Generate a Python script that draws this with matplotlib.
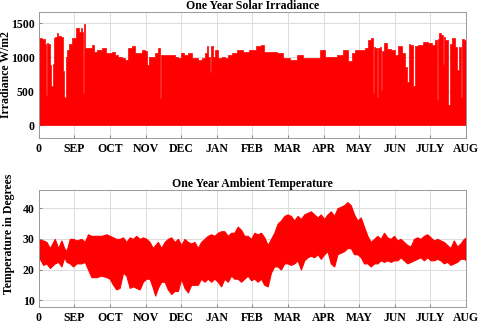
import numpy as np
import matplotlib
matplotlib.use('Agg')
from matplotlib import pyplot as plt

plt.rcParams['font.family'] = ['Liberation Serif', 'DejaVu Serif']
plt.rcParams['font.weight'] = 'bold'

# month tick labels (data runs Aug -> Aug, x in days)
months = ['0', 'SEP', 'OCT', 'NOV', 'DEC', 'JAN', 'FEB', 'MAR', 'APR', 'MAY', 'JUN', 'JULY', 'AUG']

# daily peak irradiance [W/m2]
irr_day = [0, 0.9, 5.1, 5.7, 6.6, 7.4, 8.8, 9.4, 11.4, 12.3, 13.1, 15.1, 15.7, 17.4, 19.7,
           20.8, 21.7, 22.8, 23.6, 25.1, 27.1, 29.9, 33.6, 35.0, 36.5, 37.6, 37.9, 38.5, 39.0,
           40.2, 43.6, 46.4, 47.9, 52.1, 56.4, 57.8, 60.7, 63.5, 66.4, 69.2, 72.1, 74.9, 77.8,
           80.6, 83.5, 86.3, 89.2, 92.0, 93.4, 94.9, 97.7, 100.6, 102.8, 104.0, 104.8, 109.1,
           114.8, 117.7, 120.5, 121.9, 126.2, 129.1, 131.9, 134.8, 137.6, 140.5, 143.3, 143.9,
           144.7, 147.0, 147.9, 149.0, 151.9, 154.7, 157.5, 160.4, 163.2, 166.1, 171.8,
           177.5, 181.8, 188.9, 190.9, 194.6, 200.3, 206.0, 211.7, 217.4, 223.1, 228.8, 237.3,
           243.0, 245.9, 251.6, 257.3, 262.9, 265.8, 268.7, 271.5, 274.4, 277.2, 280.1, 282.3,
           284.4, 285.8, 286.6, 288.6, 289.2, 290.0, 292.3, 292.9, 293.7, 296.3, 298.5, 302.8,
           305.7, 308.5, 311.4, 313.4, 315.7, 316.5, 318.5, 320.5, 321.4, 325.6, 331.3, 334.2,
           337.0, 339.9, 340.5, 341.3, 342.7, 344.7, 345.6, 346.4, 348.4, 350.1, 351.8, 354.1,
           356.4, 358.4, 359.8, 361.3, 362.1, 364.1, 365.0]
irr_peak = [1330, 1280, 1270, 1200, 444, 1210, 1200, 890, 570, 900, 1280, 1300, 1355, 1310, 1300,
            800, 420, 395, 1010, 1110, 1200, 1280, 1430, 1380, 1440, 1380, 470, 1450, 1490,
            1135, 1140, 1180, 1080, 1110, 1135, 1060, 1060, 1085, 1035, 1010, 990, 960, 1135,
            1160, 1060, 1060, 1110, 1100, 890, 1010, 1010, 1060, 1135, 395, 1035, 1035,
            1035, 1010, 985, 1060, 1035, 1060, 990, 990, 960, 985, 1060, 1160,
            1010, 790, 1160, 1010, 1110, 990, 1010, 990, 1035, 1060, 1110,
            1085, 1110, 1160, 1180, 1085, 1085, 1060, 990, 960, 1035, 990, 990,
            1110, 1010, 1010, 1035, 1110, 940, 1060, 1110, 1110, 1110, 1135, 1250,
            1290, 470, 1150, 1135, 420, 1135, 1150, 520, 1100, 1210, 1120, 1110,
            1035, 1160, 1060, 860, 640, 1200, 1180, 570, 1160, 1180, 1230, 1210,
            1180, 1260, 370, 1270, 1355, 1330, 900, 1300, 1250, 300, 1200, 1280,
            1150, 820, 1150, 420, 1270, 1250, 1250]

# ambient temperature envelope [deg C]
temp_day = [0.0, 3.7, 6.5, 9.4, 13.6, 16.5, 19.3, 21.6, 23.6, 26.4, 29.3, 32.1, 36.4, 39.2,
            42.0, 44.9, 49.1, 53.4, 57.7, 60.5, 63.4, 66.2, 69.0, 71.9, 74.7, 77.6, 80.4, 83.2,
            86.1, 88.9, 91.8, 94.6, 97.4, 99.4, 101.7, 104.5, 107.4, 110.2, 113.1, 115.9, 118.8,
            121.6, 124.4, 127.3, 130.1, 133.0, 135.8, 138.6, 141.5, 144.3, 147.2, 150.0, 152.8,
            155.7, 158.5, 161.4, 164.2, 167.0, 169.9, 172.7,
            175.6, 178.4, 181.3, 184.1, 186.9, 189.8, 192.6, 195.5, 198.3, 201.1, 204.0, 206.8,
            209.7, 212.5, 215.3, 218.2, 221.0, 223.9, 226.7, 229.5, 232.4, 235.2, 238.1, 240.9,
            243.8, 246.6, 249.4, 252.3, 255.1, 258.0, 260.8, 263.6, 266.5, 269.3, 272.2, 275.0,
            277.8, 280.7, 283.5, 286.4, 289.2, 292.0, 294.9, 297.7, 300.6, 303.4, 306.3, 309.1,
            311.9, 314.8, 317.6, 320.5, 323.3, 326.1, 329.0, 331.8, 334.7, 337.5, 340.3, 343.2,
            346.0, 348.9, 351.7, 354.5, 357.4, 360.2, 363.1, 365.0]
temp_max = [29.7, 29.5, 29, 27, 30, 27, 29.5, 27, 26, 30, 30, 29.5, 30, 29,
            31.5, 31, 31, 31, 31.5, 31, 30.5, 30, 30, 30.5, 29, 30.5, 30, 31,
            30, 30.5, 30, 29, 27, 28, 29, 27, 29, 30, 30.5, 29, 30,
            28, 30, 29, 28.5, 29, 27, 29, 30, 31, 31.5, 31, 32,
            32.5, 32.5, 31, 32, 32, 34, 33,
            31, 31, 30, 32, 31.5, 32, 30.5, 28, 30, 32, 35, 36,
            37.5, 38, 37.5, 36, 37.5, 36.5, 38, 38.5, 39, 38, 37, 38,
            36.5, 38, 39, 37.5, 40, 40.5, 41, 42, 41, 38, 36, 37,
            34, 31, 29, 30, 31, 30, 32, 30.5, 30, 31, 29.5, 30,
            29, 28, 27.5, 30, 30.5, 30, 31, 31.5, 30.5, 29.5, 30, 29.5,
            29, 28, 27, 29.5, 27.5, 28.5, 30, 30.5]
temp_min = [24, 21.5, 22, 20.5, 22, 22.5, 21, 24, 22.5, 22, 21, 22, 22, 22.5,
            20, 17.5, 17.5, 18, 17.5, 17, 15, 13.5, 14, 19, 18, 14, 14.5, 14,
            13.5, 16, 17, 17, 14, 11.5, 14, 16, 16, 13.5, 12, 13, 13,
            17, 14, 12.5, 15, 15, 15, 17, 16, 17, 16, 17, 16,
            14.5, 17, 16, 18, 17, 17, 16,
            17, 18, 16.5, 17, 16, 17, 15, 14.5, 19, 21, 21, 20,
            22, 22, 21.5, 22, 23, 20, 23, 24, 24.5, 24, 25, 23.5,
            25, 26, 22, 21, 25, 25.5, 26, 27, 27, 25, 25, 24,
            22, 22, 21, 22, 22, 23, 22.5, 23, 22.5, 23, 23, 24,
            23, 22, 22.5, 23, 23.5, 24, 23, 24, 23, 23, 23.5, 23,
            22, 22.5, 21.5, 22, 22.5, 23.5, 23.5, 23]

tick_pos = np.arange(len(months)) * 365.0 / 12
red = '#ff0000'

fig = plt.figure(figsize=(4.8, 3.23), dpi=100)
ax1 = fig.add_axes([0.081, 0.573, 0.890, 0.390])
ax2 = fig.add_axes([0.081, 0.050, 0.890, 0.362])

ax1.fill_between(irr_day, 0, irr_peak, step='mid', color=red, lw=0.5, edgecolor=red)
ax1.set_ylim(-190, 1670)
ax1.set_yticks([0, 500, 1000, 1500])
ax1.set_title('One Year Solar Irradiance', fontsize=8.5, fontweight='bold', pad=2)
ax1.set_ylabel('Irradiance W/m2', fontsize=8.5, fontweight='bold')
ax1.yaxis.set_label_coords(-0.062, 0.5)

ax2.fill_between(temp_day, temp_min, temp_max, color=red, lw=0.8, edgecolor=red)
ax2.set_ylim(7.8, 46)
ax2.set_yticks([10, 20, 30, 40])
ax2.set_title('One Year Ambient Temperature', fontsize=8.5, fontweight='bold', pad=2)
ax2.set_ylabel('Temperature in Degrees', fontsize=8.5, fontweight='bold')
ax2.yaxis.set_label_coords(-0.056, 0.62)

for ax in (ax1, ax2):
    ax.set_xlim(0, 365)
    ax.set_xticks(tick_pos)
    ax.set_xticklabels(months)
    ax.grid(True, color='#dcdcdc', lw=0.7)
    ax.set_axisbelow(True)
    ax.tick_params(direction='in', length=2.5, color='#888888', labelsize=8.5, pad=4)
    ax.tick_params(axis='y', pad=3)
    for lbl in ax.get_xticklabels() + ax.get_yticklabels():
        lbl.set_fontweight('bold')
    for s in ax.spines.values():
        s.set_color('#999999')
        s.set_linewidth(0.7)

plt.savefig('out.png', dpi=100)
